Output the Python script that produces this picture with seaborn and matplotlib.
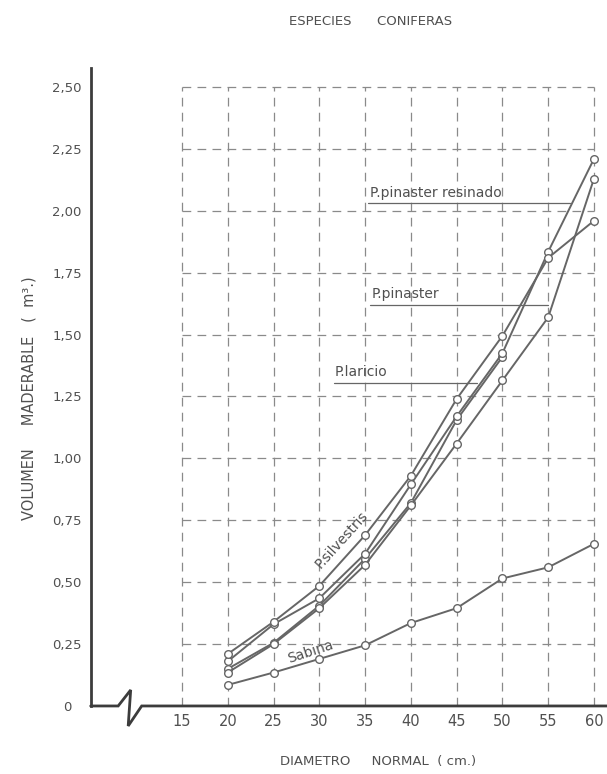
import numpy as np
import pandas as pd
import matplotlib
matplotlib.use("Agg")
import matplotlib.pyplot as plt
import seaborn as sns

# Data
diametros = [20, 25, 30, 35, 40, 45, 50, 55, 60]
silvestris = [0.21, 0.34, 0.485, 0.69, 0.93, 1.24, 1.495, 1.81, 1.96]
pinaster_resinado = [0.18, 0.33, 0.435, 0.615, 0.895, 1.17, 1.425, 1.835, 2.21]
laricio = [0.15, 0.255, 0.405, 0.595, 0.82, 1.155, 1.41, np.nan, np.nan]
pinaster = [0.135, 0.25, 0.395, 0.57, 0.81, 1.06, 1.315, 1.57, 2.13]
sabina = [0.085, 0.135, 0.19, 0.245, 0.335, 0.395, 0.515, 0.56, 0.655]

especies = ["P.silvestris", "P.pinaster resinado", "P.laricio", "P.pinaster", "Sabina"]
x_ticks = [15, 20, 25, 30, 35, 40, 45, 50, 55, 60]
y_ticks = [0.25, 0.50, 0.75, 1.00, 1.25, 1.50, 1.75, 2.00, 2.25, 2.50]
y_labels = ["0,25", "0,50", "0,75", "1,00", "1,25", "1,50", "1,75", "2,00", "2,25", "2,50"]

df = pd.DataFrame({
    "diametro": diametros * 5,
    "volumen": silvestris + pinaster_resinado + laricio + pinaster + sabina,
    "especie": [e for e in especies for _ in diametros],
})

sns.set_style("white")
plt.rcParams["font.family"] = ["DejaVu Sans"]

ink = "#666666"
txt = "#505050"
axis_col = "#3c3c3c"

fig = plt.figure(figsize=(6.07, 7.74), dpi=100)
ax = fig.add_axes([0.1494, 0.0879, 0.8506, 0.8243])
xmin, xmax = 5.03, 61.42
ymin, ymax = 0.0, 2.577
ax.set_xlim(xmin, xmax)
ax.set_ylim(ymin, ymax)

# dashed grid box 15..60 x 0..2.5
grid_kw = dict(color="#8a8a8a", lw=0.9, ls=(0, (7, 5)), zorder=1)
for xv in x_ticks:
    ax.plot([xv, xv], [0, 2.5], **grid_kw)
for yv in y_ticks:
    ax.plot([15, 60], [yv, yv], **grid_kw)

sns.lineplot(data=df, x="diametro", y="volumen", units="especie", estimator=None,
             color=ink, lw=1.4, marker="o", markersize=5.5, markerfacecolor="white",
             markeredgecolor=ink, markeredgewidth=1.0, ax=ax, zorder=3, legend=False)

# axes styling
for s in ["top", "right", "bottom"]:
    ax.spines[s].set_visible(False)
ax.spines["left"].set_color(axis_col)
ax.spines["left"].set_linewidth(2.0)

# x axis line with break symbol
ux = (xmax - xmin) / 516.3   # data units per pixel (x)
uy = (ymax - ymin) / 638.0   # data units per pixel (y)
bx = xmin + np.array([0, 27.5, 40, 37.5, 51, 600]) * ux
by = np.array([0, 0, 16, -20, 0, 0]) * uy
ax.plot(bx, by, color=axis_col, lw=2.0, clip_on=False, zorder=4,
        solid_joinstyle="miter")

ax.set_yticks([0] + y_ticks)
ax.set_yticklabels(["0"] + y_labels)
ax.tick_params(axis="y", direction="in", length=6, width=1.2, color=axis_col,
               pad=17, labelsize=9.5, labelcolor=txt)
for lab in ax.get_yticklabels():
    lab.set_ha("center")
ax.yaxis.get_major_ticks()[0].tick1line.set_visible(False)

ax.set_xticks(x_ticks)
ax.set_xticklabels([str(v) for v in x_ticks])
ax.tick_params(axis="x", length=0, pad=6, labelsize=10.5, labelcolor=txt)

ax.set_xlabel("")
ax.set_ylabel("")
fig.text(0.623, 0.008, "DIAMETRO     NORMAL  ( cm.)", ha="center", va="bottom",
         fontsize=9.5, color=txt)
fig.text(0.047, 0.486, "VOLUMEN     MADERABLE   (  m\u00b3.)", ha="center", va="center",
         rotation=90, fontsize=10.5, color=txt)
fig.text(0.61, 0.972, "ESPECIES      CONIFERAS", ha="center", va="center",
         fontsize=9.5, color=txt)

# species labels with underlines
lab_kw = dict(fontsize=10, color=txt, va="bottom", ha="left")
ax.text(35.5, 2.045, "P.pinaster resinado", **lab_kw)
ax.plot([35.3, 57.4], [2.03, 2.03], color=ink, lw=0.9, zorder=2)
ax.text(35.7, 1.635, "P.pinaster", **lab_kw)
ax.plot([35.5, 55.0], [1.62, 1.62], color=ink, lw=0.9, zorder=2)
ax.text(31.7, 1.32, "P.laricio", **lab_kw)
ax.plot([31.6, 47.2], [1.305, 1.305], color=ink, lw=0.9, zorder=2)
ax.text(32.4, 0.67, "P.silvestris", fontsize=10, color=txt, ha="center",
        va="center", rotation=48)
ax.text(29.0, 0.22, "Sabina", fontsize=10, color=txt, ha="center",
        va="center", rotation=18)

fig.savefig("out.png", dpi=100)
plt.close(fig)
